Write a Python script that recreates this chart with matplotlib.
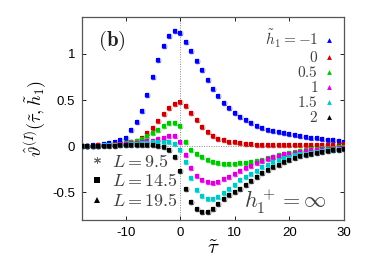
import numpy as np
import matplotlib
matplotlib.use('Agg')
import matplotlib.pyplot as plt
from matplotlib.lines import Line2D

plt.rcParams['mathtext.fontset'] = 'cm'
plt.rcParams['font.family'] = ['Liberation Sans', 'DejaVu Sans']

# scaling variable tau (same grid for every curve)
tau = np.arange(-18, 31, 1)

h1_labels = [r'$\tilde{h}_1 = -1$', r'$0$', r'$0.5$', r'$1$', r'$1.5$', r'$2$']
colors = ['#0000ee', '#cc0000', '#00c800', '#dd00dd', '#00c8c8', '#000000']

# values, tau = -18 ... 30
h_m1 = [0.0, 0.005, 0.01, 0.015, 0.025, 0.035, 0.05, 0.065, 0.09, 0.17, 0.26, 0.38, 0.55, 0.75,
        0.93, 1.08, 1.19, 1.25, 1.23, 1.13, 1.03, 0.92, 0.82, 0.72, 0.62, 0.54, 0.47, 0.41,
        0.36, 0.32, 0.28, 0.25, 0.22, 0.20, 0.18, 0.165, 0.15, 0.14, 0.13, 0.12, 0.11, 0.10,
        0.09, 0.085, 0.08, 0.07, 0.065, 0.06, 0.05]
h_0 = [0.0, 0.0, 0.005, 0.008, 0.012, 0.015, 0.02, 0.025, 0.035, 0.045, 0.06, 0.09, 0.14,
       0.2, 0.27, 0.35, 0.41, 0.46, 0.48, 0.44, 0.36, 0.28, 0.21, 0.15, 0.11, 0.08, 0.065,
       0.05, 0.04, 0.03, 0.025, 0.02, 0.018, 0.015, 0.013, 0.012, 0.011, 0.01, 0.01, 0.01,
       0.01, 0.01, 0.012, 0.012, 0.014, 0.015, 0.016, 0.018, 0.02]
h_05 = [0.0, 0.0, 0.003, 0.006, 0.01, 0.012, 0.015, 0.02, 0.03, 0.04, 0.06, 0.08, 0.11, 0.14,
        0.18, 0.22, 0.25, 0.25, 0.22, 0.05, -0.04, -0.09, -0.12, -0.15, -0.17, -0.18, -0.19,
        -0.19, -0.19, -0.185, -0.18, -0.17, -0.16, -0.145, -0.13, -0.115, -0.10, -0.085,
        -0.07, -0.06, -0.05, -0.043, -0.035, -0.03, -0.025, -0.02, -0.018, -0.014, -0.01]
h_1 = [0.0, 0.0, 0.003, 0.006, 0.01, 0.013, 0.016, 0.02, 0.025, 0.03, 0.038, 0.045, 0.055,
       0.06, 0.075, 0.09, 0.105, 0.11, 0.05, -0.1, -0.24, -0.32, -0.37, -0.39, -0.40, -0.39,
       -0.36, -0.33, -0.30, -0.27, -0.24, -0.21, -0.185, -0.16, -0.14, -0.12, -0.105, -0.09,
       -0.08, -0.07, -0.06, -0.05, -0.045, -0.04, -0.035, -0.03, -0.028, -0.025, -0.02]
h_15 = [0.0, 0.0, 0.003, 0.005, 0.008, 0.01, 0.012, 0.015, 0.018, 0.02, 0.025, 0.03, 0.035,
        0.04, 0.045, 0.045, 0.04, 0.02, -0.04, -0.17, -0.35, -0.47, -0.54, -0.57, -0.57,
        -0.55, -0.51, -0.46, -0.42, -0.37, -0.335, -0.30, -0.265, -0.23, -0.20, -0.17,
        -0.15, -0.13, -0.115, -0.10, -0.09, -0.08, -0.07, -0.06, -0.052, -0.045, -0.04,
        -0.035, -0.03]
h_2 = [0.0, 0.0, 0.0, 0.002, 0.004, 0.005, 0.006, 0.008, 0.008, 0.01, 0.01, 0.01, 0.01,
       0.01, 0.005, -0.01, -0.04, -0.12, -0.27, -0.46, -0.60, -0.68, -0.71, -0.71, -0.68,
       -0.63, -0.57, -0.53, -0.50, -0.46, -0.42, -0.375, -0.33, -0.295, -0.26, -0.23, -0.20,
       -0.175, -0.15, -0.13, -0.11, -0.095, -0.08, -0.07, -0.06, -0.052, -0.045, -0.04,
       -0.035]
curves = [h_m1, h_0, h_05, h_1, h_15, h_2]

L_labels = [r'$L = 9.5$', r'$L = 14.5$', r'$L = 19.5$']
L_markers = [(6, 2, 0), 's', '^']

fig = plt.figure(figsize=(3.74, 2.73), dpi=100)
ax = fig.add_axes([0.219, 0.194, 0.701, 0.744])

ax.axhline(0, color='#888888', lw=0.7, ls=(0, (1, 1.5)), zorder=1)
ax.axvline(0, color='#888888', lw=0.7, ls=(0, (1, 1.5)), zorder=1)

handles = []
for vals, c, lab in zip(curves, colors, h1_labels):
    ax.plot(tau, vals, ls='none', marker='o', ms=4.5, color=c, alpha=0.3, mew=0, zorder=2)
    ax.plot(tau, vals, ls='none', marker='s', ms=2.6, color=c, mew=0, zorder=3)
    ax.plot(tau, vals, ls='none', marker='^', ms=3.2, color=c, mew=0, zorder=3)
    handles.append(Line2D([], [], ls='none', marker='^', ms=3.5, color=c, mew=0, label=lab))

leg1 = ax.legend(handles=handles, loc='upper right', markerfirst=False, frameon=False,
                 fontsize=11, handlelength=0.6, handletextpad=0.4, labelspacing=0.0,
                 borderaxespad=0.3, labelcolor='#404040')
ax.add_artist(leg1)

lhandles = [Line2D([], [], ls='none', marker=m, ms=5, color='black', mew=0.7 if i == 0 else 0,
                   label=l) for i, (m, l) in enumerate(zip(L_markers, L_labels))]
lhandles[0].set_color('#666666')
ax.legend(handles=lhandles, loc='lower left', frameon=False, fontsize=13, handlelength=0.6,
          handletextpad=0.5, labelspacing=0.15, borderaxespad=0.15, labelcolor='#404040')

ax.text(0.06, 0.88, r'$\mathbf{(b)}$', transform=ax.transAxes, fontsize=15,
        ha='left', va='center', color='#222222')
ax.text(0.62, 0.09, r'$h_1^+ = \infty$', transform=ax.transAxes, fontsize=16, color='#404040',
        ha='left', va='center')

ax.set_xlim(-18, 30)
ax.set_ylim(-0.8, 1.4)
ax.set_xticks([-10, 0, 10, 20, 30])
ax.set_yticks([-0.5, 0, 0.5, 1])
ax.set_yticklabels(['-0.5', '0', '0.5', '1'])
ax.set_xticklabels(['-10', '0', '10', '20', '30'])
ax.tick_params(direction='in', top=True, right=True, length=3, width=0.6, labelsize=9.5,
               pad=5)
for s in ax.spines.values():
    s.set_color('#555555')
    s.set_linewidth(0.9)

ax.set_xlabel(r'$\tilde{\tau}$', fontsize=15, labelpad=0)
ax.set_ylabel(r'$\hat{\vartheta}^{(I)}(\tilde{\tau},\tilde{h}_1)$', fontsize=13, labelpad=2)

fig.savefig('out.png', dpi=100)
